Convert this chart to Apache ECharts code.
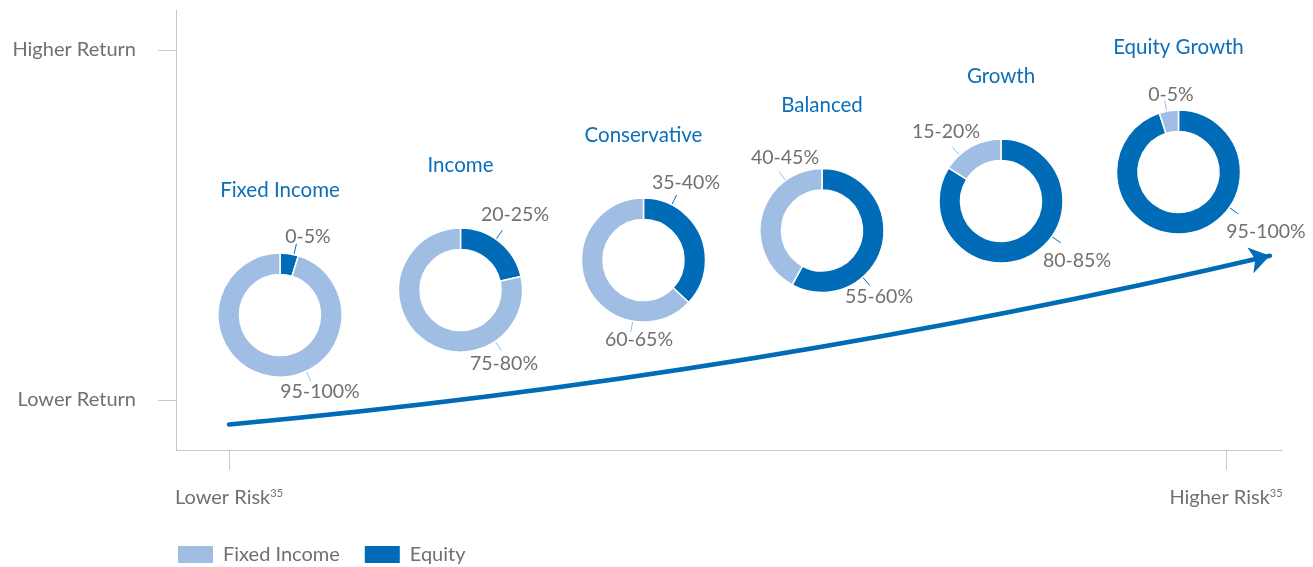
<!DOCTYPE html>
<html>
<head>
<meta charset="utf-8">
<script src="https://cdn.jsdelivr.net/npm/echarts@6/dist/echarts.min.js"></script>
<style>
  html, body { margin: 0; padding: 0; background: #fff; }
  #chart { width: 1313px; height: 567px; }
</style>
</head>
<body>
<div id="chart"></div>
<script>
// portfolio mixes
const portfolios = ['Fixed Income', 'Income', 'Conservative', 'Balanced', 'Growth', 'Equity Growth']
const equityShare = [4.8, 21.5, 37, 58, 84, 95]
const fixedShare = [95.2, 78.5, 63, 42, 16, 5]
const equityRange = ['0-5%', '20-25%', '35-40%', '55-60%', '80-85%', '95-100%']
const fixedRange = ['95-100%', '75-80%', '60-65%', '40-45%', '15-20%', '0-5%']
const returnLabels = ['Lower Return', 'Higher Return']
const riskLabels = ['Lower Risk', 'Higher Risk']
const trendRisk = [0, 1.044]
const trendReturn = [-0.07, 0.412]

// layout only
const pieCenters = [[280, 315], [460.5, 290], [643.5, 260], [822, 230.5], [1001, 201], [1178.5, 172]]
// [angle of leader, text dx, text dy] relative to pie center
const equityLabelPos = [[13, 28, -78], [35, 54.5, -75], [27, 42.5, -77], [139, 57, 66.5], [125, 76, 60], [125, 87.5, 60]]
const fixedLabelPos = [[155, 40, 77], [146, 43.5, 74], [190, -4.5, 80], [324, -37, -72.5], [318, -55, -69], [349, -7.5, -77]]

const FIXED = '#a0bee4'
const EQUITY = '#006bb6'
const GREY = '#707070'
const FONT = 'Lato'

const chart = echarts.init(document.getElementById('chart'))

function labelLayoutFor(i) {
  return function(params) {
    const c = pieCenters[i]
    const p = params.dataIndex === 0 ? equityLabelPos[i] : fixedLabelPos[i]
    const a = p[0] * Math.PI / 180
    const s = [c[0] + 62 * Math.sin(a), c[1] - 62 * Math.cos(a)]
    const e = [c[0] + 73 * Math.sin(a), c[1] - 73 * Math.cos(a)]
    return {
      x: c[0] + p[1],
      y: c[1] + p[2],
      align: 'center',
      verticalAlign: 'middle',
      labelLinePoints: [s, e, e]
    }
  }
}

const pieSeries = portfolios.map(function(name, i) {
  return {
    id: 'mix' + i,
    name: name + ' mix',
    type: 'pie',
    center: pieCenters[i],
    radius: [40.5, 62],
    startAngle: 90,
    clockwise: true,
    avoidLabelOverlap: false,
    animation: false,
    itemStyle: { borderColor: '#fff', borderWidth: 1.5 },
    label: {
      show: true,
      position: 'outside',
      fontFamily: FONT,
      fontSize: 19.5,
      color: GREY,
      formatter: function(p) {
        return p.dataIndex === 0 ? equityRange[i] : fixedRange[i]
      }
    },
    labelLine: { show: true, length: 8, length2: 0, lineStyle: { width: 1 } },
    labelLayout: labelLayoutFor(i),
    data: [
      { name: 'Equity', value: equityShare[i], itemStyle: { color: EQUITY } },
      { name: 'Fixed Income', value: fixedShare[i], itemStyle: { color: FIXED } }
    ]
  }
})

chart.setOption({
  animation: false,
  grid: { left: 176, right: 31, top: 10, bottom: 117 },
  xAxis: {
    type: 'value',
    min: -53 / 997,
    max: 1 + 56 / 997,
    splitLine: { show: false },
    axisLine: { show: true, onZero: false, lineStyle: { color: '#c8c8c8', width: 1 } },
    axisTick: { show: true, customValues: [0, 1], length: 20, lineStyle: { color: '#c8c8c8' } },
    axisLabel: {
      customValues: [0, 1],
      margin: 38,
      formatter: function(v) {
        return '{a|' + riskLabels[v > 0.5 ? 1 : 0] + '}{s|35}'
      },
      rich: {
        a: { fontFamily: FONT, fontSize: 20, color: GREY },
        s: { fontFamily: FONT, fontSize: 11, color: GREY, verticalAlign: 'top', padding: [0, 0, 8, 0] }
      }
    }
  },
  yAxis: {
    type: 'value',
    min: -50 / 350,
    max: 1 + 40 / 350,
    splitLine: { show: false },
    axisLine: { show: true, onZero: false, lineStyle: { color: '#c8c8c8', width: 1 } },
    axisTick: { show: true, customValues: [0, 1], length: 18, lineStyle: { color: '#c8c8c8' } },
    axisLabel: {
      customValues: [0, 1],
      margin: 40,
      fontFamily: FONT,
      fontSize: 20,
      color: GREY,
      formatter: function(v) {
        return returnLabels[v > 0.5 ? 1 : 0]
      }
    }
  },
  legend: {
    data: [
      { name: 'Fixed Income', itemStyle: { color: FIXED } },
      { name: 'Equity', itemStyle: { color: EQUITY } }
    ],
    left: 176,
    top: 544,
    padding: 0,
    icon: 'rect',
    itemWidth: 37,
    itemHeight: 19,
    itemGap: 23,
    selectedMode: false,
    textStyle: { fontFamily: FONT, fontSize: 20, color: GREY, padding: [0, 0, 0, 4] }
  },
  graphic: portfolios.map(function(name, i) {
    return {
      type: 'text',
      x: pieCenters[i][0],
      y: pieCenters[i][1] - 125,
      style: {
        text: name,
        fill: '#0a6fba',
        font: '20.5px ' + FONT,
        align: 'center',
        verticalAlign: 'middle'
      }
    }
  }),
  series: pieSeries.concat([{
    type: 'lines',
    coordinateSystem: 'cartesian2d',
    symbol: ['none', 'arrow'],
    symbolSize: 20,
    silent: true,
    lineStyle: { color: EQUITY, width: 4.5, curveness: -0.035, opacity: 1, cap: 'round' },
    data: [{ coords: [[trendRisk[0], trendReturn[0]], [trendRisk[1], trendReturn[1]]] }]
  }])
})
</script>
</body>
</html>
